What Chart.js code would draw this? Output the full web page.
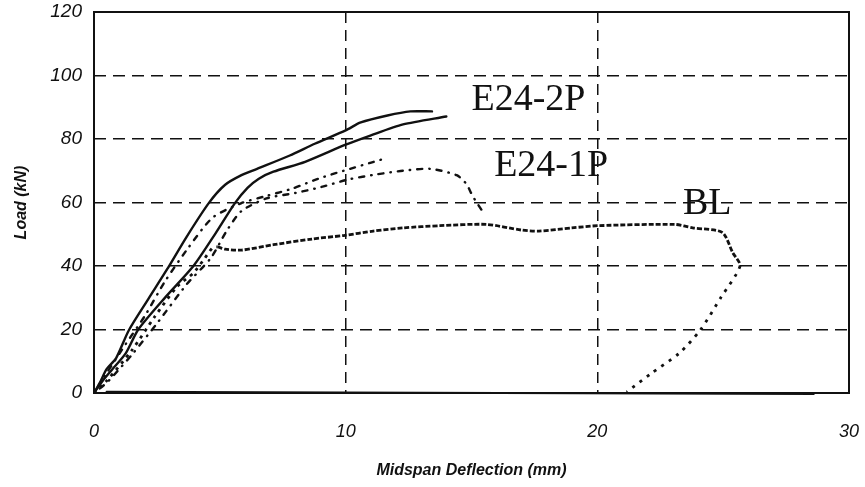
<!DOCTYPE html>
<html>
<head>
<meta charset="utf-8">
<title>Load vs midspan deflection</title>
<script src="https://cdn.jsdelivr.net/npm/chart.js@4.4.1/dist/chart.umd.min.js"></script>
<style>
  html, body { margin: 0; padding: 0; background: #fff; }
  #wrap { width: 865px; height: 487px; }
</style>
</head>
<body>
<div id="wrap"><canvas id="loadChart"></canvas></div>
<script>
// Midspan deflection (mm) and load (kN).
var e242pAX = [0, 0.23, 0.5, 0.88, 1.38, 2.15, 2.9, 3.68, 4.56, 5.2, 5.86, 6.48, 7.78, 8.77, 10.0, 10.6, 11.66, 12.57, 13.43];
var e242pAY = [0, 3.2, 7.5, 11, 19.7, 29.5, 38.9, 49.2, 59.8, 65.5, 68.6, 70.6, 74.8, 78.5, 82.7, 85.2, 87.4, 88.7, 88.7];

var e242pBX = [0, 0.34, 0.73, 1.26, 1.76, 2.84, 3.95, 4.83, 5.6, 6.1, 6.55, 7.13, 8.39, 10.0, 10.98, 12.28, 14.0];
var e242pBY = [0, 3.8, 7.5, 12.5, 20, 30.2, 40, 50.3, 59.8, 64.6, 67.5, 69.7, 72.8, 78.2, 81.1, 84.6, 87.1];

var e241pAX = [0, 0.54, 1.26, 2.03, 2.8, 3.68, 4.71, 5.86, 6.86, 7.89, 8.92, 9.92, 10.98, 11.5];
var e241pAY = [0, 6.7, 15.4, 24.4, 34.9, 45, 55.2, 59.8, 62.1, 64.4, 67.5, 70, 72.5, 73.7];

var e241pBX = [0, 0.5, 1.0, 1.49, 2.53, 3.68, 4.64, 5.29, 5.86, 6.86, 8.0, 9.04, 10.08, 11.26, 12.28, 13.35, 14.41, 14.8, 15.04, 15.43];
var e241pBY = [0, 3.2, 7.5, 11.9, 22.2, 34.2, 42.5, 51.3, 57.3, 61.3, 63, 64.9, 67.2, 68.9, 70, 70.6, 68.6, 65.8, 62.1, 57.3];

var blX = [0, 0.5, 1.49, 2.41, 3.3, 3.95, 4.37, 4.71, 4.9, 5.21, 5.86, 7.13, 8.66, 9.92, 11.1, 12.28, 13.74, 15.59, 17.0, 17.68, 18.98, 20.04, 23.08, 23.79, 24.96, 25.38, 25.67, 24.92, 24.08, 23.25, 22.13, 21.17];
var blY = [0, 3.8, 13.3, 24, 33.5, 37.8, 42.1, 45.7, 46, 45.3, 45, 46.7, 48.5, 49.6, 51, 52, 52.7, 53.1, 51.3, 51, 52, 52.7, 53.1, 52, 50.6, 44.2, 40, 30.2, 19.7, 12.5, 6.1, 0.3];

// trace running along the deflection axis
var baseX = [0.5, 28.6];
var baseY = [0.4, -0.3];

var xTicks = [0, 10, 20, 30];
var yTicks = [0, 20, 40, 60, 80, 100, 120];

var curveNames = ["E24-2P", "E24-1P", "BL"];
var nameX = [15.0, 15.9, 23.4];
var nameY = [92.3, 71.5, 59.5];

function toPoints(xs, ys) {
    var pts = [];
    for (var i = 0; i < xs.length; ++i)
        pts.push({ x: xs[i], y: ys[i] });
    return pts;
}

var ink = "#111";

function curve(label, xs, ys, dash, extra) {
    var ds = {
        label: label,
        data: toPoints(xs, ys),
        showLine: true,
        borderColor: ink,
        borderWidth: 2.4,
        borderDash: dash,
        borderCapStyle: "round",
        pointRadius: 0,
        pointHoverRadius: 0,
        tension: 0.25,
        fill: false
    };
    for (var k in extra) ds[k] = extra[k];
    return ds;
}

// Plot frame and curve names.
var framePlugin = {
    id: "frameAndNames",
    afterDraw: function(chart) {
        var ctx = chart.ctx;
        var a = chart.chartArea;
        var xs = chart.scales.x, ys = chart.scales.y;
        ctx.save();
        ctx.strokeStyle = ink;
        ctx.lineWidth = 2;
        ctx.strokeRect(a.left, a.top, a.right - a.left, a.bottom - a.top);

        ctx.fillStyle = ink;
        ctx.font = "38px 'Liberation Serif', 'Times New Roman', serif";
        ctx.textBaseline = "middle";
        ctx.textAlign = "left";
        for (var i = 0; i < curveNames.length; ++i)
            ctx.fillText(curveNames[i], xs.getPixelForValue(nameX[i]), ys.getPixelForValue(nameY[i]));
        ctx.restore();
    }
};

function innerGrid(ctx) {
    var v = ctx.tick ? ctx.tick.value : null;
    var s = ctx.scale;
    return (v === s.min || v === s.max) ? "rgba(0,0,0,0)" : ink;
}

// keep the tick labels from pushing the plot area inwards
function noEdgePadding(s) {
    s.paddingLeft = 0;
    s.paddingRight = 0;
    s.paddingTop = 0;
    s.paddingBottom = 0;
}

var tickFont = { family: "'Liberation Sans', Arial, sans-serif", size: 19, style: "italic" };
var titleFont = { family: "'Liberation Sans', Arial, sans-serif", size: 16, style: "italic", weight: "bold" };

var config = {
    type: "scatter",
    data: {
        datasets: [
            curve("E24-2P", e242pAX, e242pAY, []),
            curve("E24-2P", e242pBX, e242pBY, []),
            curve("E24-1P", e241pAX, e241pAY, [0.5, 7, 5, 7]),
            curve("E24-1P", e241pBX, e241pBY, [0.5, 7, 5, 7]),
            curve("BL", blX, blY, [3, 3], {
                borderWidth: 2.8,
                borderCapStyle: "butt",
                segment: {
                    borderDash: function(c) {
                        if (c.p0DataIndex >= 26) return [3, 6];
                        if (c.p0DataIndex < 8) return [3, 5];
                        return [5, 2];
                    }
                }
            }),
            curve("", baseX, baseY, [], { borderWidth: 2, tension: 0, clip: false })
        ]
    },
    options: {
        responsive: true,
        maintainAspectRatio: false,
        animation: false,
        events: [],
        layout: { padding: { top: 12, right: 16, left: 0, bottom: 0 } },
        plugins: {
            legend: { display: false },
            tooltip: { enabled: false }
        },
        scales: {
            x: {
                type: "linear",
                min: 0,
                max: 30,
                afterBuildTicks: function(s) {
                    s.ticks = xTicks.map(function(v) { return { value: v }; });
                },
                afterFit: function(s) { s.height = 94; noEdgePadding(s); },
                grid: { color: innerGrid, lineWidth: 1.5, drawTicks: false },
                border: { display: false, dash: [11, 7] },
                ticks: { color: ink, font: { family: tickFont.family, size: 18, style: "italic" }, padding: 28, maxRotation: 0 },
                title: {
                    display: true,
                    text: "Midspan Deflection (mm)",
                    color: ink,
                    font: titleFont,
                    padding: { top: 0, bottom: 7 }
                }
            },
            y: {
                type: "linear",
                min: 0,
                max: 120,
                afterBuildTicks: function(s) {
                    s.ticks = yTicks.map(function(v) { return { value: v }; });
                },
                afterFit: function(s) { s.width = 94; noEdgePadding(s); },
                grid: { color: innerGrid, lineWidth: 1.5, drawTicks: false },
                border: { display: false, dash: [12, 7] },
                ticks: { color: ink, font: tickFont, padding: 12 },
                title: {
                    display: true,
                    text: "Load (kN)",
                    color: ink,
                    font: titleFont,
                    padding: { top: 12, bottom: 0 }
                }
            }
        }
    },
    plugins: [framePlugin]
};

var loadChart = new Chart(document.getElementById("loadChart").getContext("2d"), config);
</script>
</body>
</html>
